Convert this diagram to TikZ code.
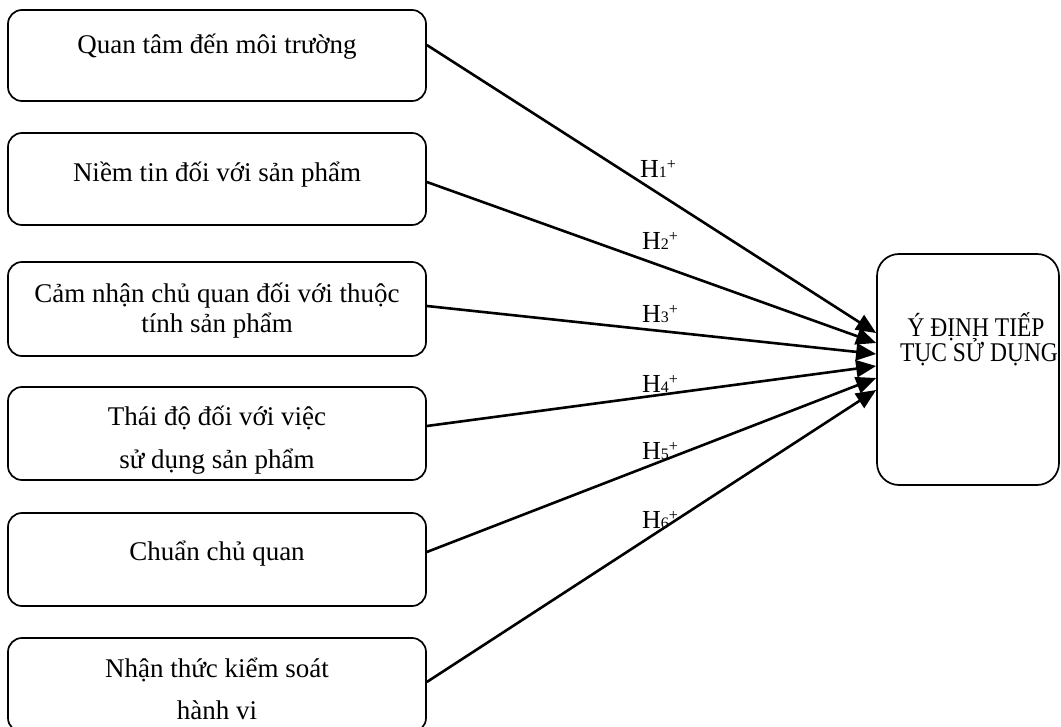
\documentclass[tikz,border=0pt]{standalone}
\usepackage{fontspec}
\setmainfont{Liberation Serif}
\usetikzlibrary{arrows.meta}
\begin{document}
\begin{tikzpicture}[x=1pt,y=-1pt,
  box/.style={draw, line width=1.7pt, rounded corners=14pt, inner sep=0pt, minimum width=418pt},
  goalbox/.style={draw, line width=1.7pt, rounded corners=22pt, inner sep=0pt, minimum width=182pt, minimum height=231pt},
  txt/.style={font=\fontsize{27}{30}\selectfont, inner sep=0pt, anchor=base},
  gtxt/.style={font=\fontsize{27}{26}\selectfont, inner sep=0pt, anchor=base},
  hyp/.style={font=\fontsize{26}{26}\selectfont, inner sep=0pt, anchor=base west},
  arr/.style={line width=2.6pt, -{Triangle[length=20pt,width=17pt]}}]
\newcommand{\hlab}[1]{H{\fontsize{16}{16}\selectfont #1}\raisebox{8pt}{\fontsize{16}{16}\selectfont +}}
\useasboundingbox (0,0) rectangle (1061,727);
\clip (0,0) rectangle (1061,727);
% boxes
\node[box, minimum height=91pt] (b1) at (217,55.5) {};
\node[box, minimum height=92pt] (b2) at (217,179) {};
\node[box, minimum height=94pt] (b3) at (217,309) {};
\node[box, minimum height=93pt] (b4) at (217,433.5) {};
\node[box, minimum height=93pt] (b5) at (217,559.5) {};
\node[box, minimum height=94pt] (b6) at (217,685) {};
\node[goalbox] (goal) at (968,369.5) {};
% texts
\node[txt] (t1) at (217,54) {Quan tâm đến môi trường};
\node[txt] (t2) at (217,182) {Niềm tin đối với sản phẩm};
\node[txt] (t3a) at (217,303) {Cảm nhận chủ quan đối với thuộc};
\node[txt] (t3b) at (217,333) {tính sản phẩm};
\node[txt] (t4a) at (217,426) {Thái độ đối với việc};
\node[txt] (t4b) at (217,468) {sử dụng sản phẩm};
\node[txt] (t5) at (217,560) {Chuẩn chủ quan};
\node[txt] (t6a) at (217,677) {Nhận thức kiểm soát};
\node[txt] (t6b) at (217,719) {hành vi};
\node[gtxt] (g1) at (976,337) {\scalebox{0.87}[1]{Ý ĐỊNH TIẾP}};
\node[gtxt] (g2) at (979,362) {\scalebox{0.87}[1]{TỤC SỬ DỤNG}};
% arrows
\draw[arr] ([yshift=10.5pt]b1.east) -- ([yshift=36.5pt]goal.west);
\draw[arr] ([yshift=-3pt]b2.east) -- ([yshift=26.5pt]goal.west);
\draw[arr] ([yshift=3pt]b3.east) -- ([yshift=15.5pt]goal.west);
\draw[arr] ([yshift=7.5pt]b4.east) -- ([yshift=3.5pt]goal.west);
\draw[arr] ([yshift=7.5pt]b5.east) -- ([yshift=-8.5pt]goal.west);
\draw[arr] ([yshift=3pt]b6.east) -- ([yshift=-20.5pt]goal.west);
% labels
\node[hyp] (h1) at (640,178) {\hlab{1}};
\node[hyp] (h2) at (642,250) {\hlab{2}};
\node[hyp] (h3) at (642,323) {\hlab{3}};
\node[hyp] (h4) at (642,392) {\hlab{4}};
\node[hyp] (h5) at (642,459) {\hlab{5}};
\node[hyp] (h6) at (642,528) {\hlab{6}};
\end{tikzpicture}
\end{document}
